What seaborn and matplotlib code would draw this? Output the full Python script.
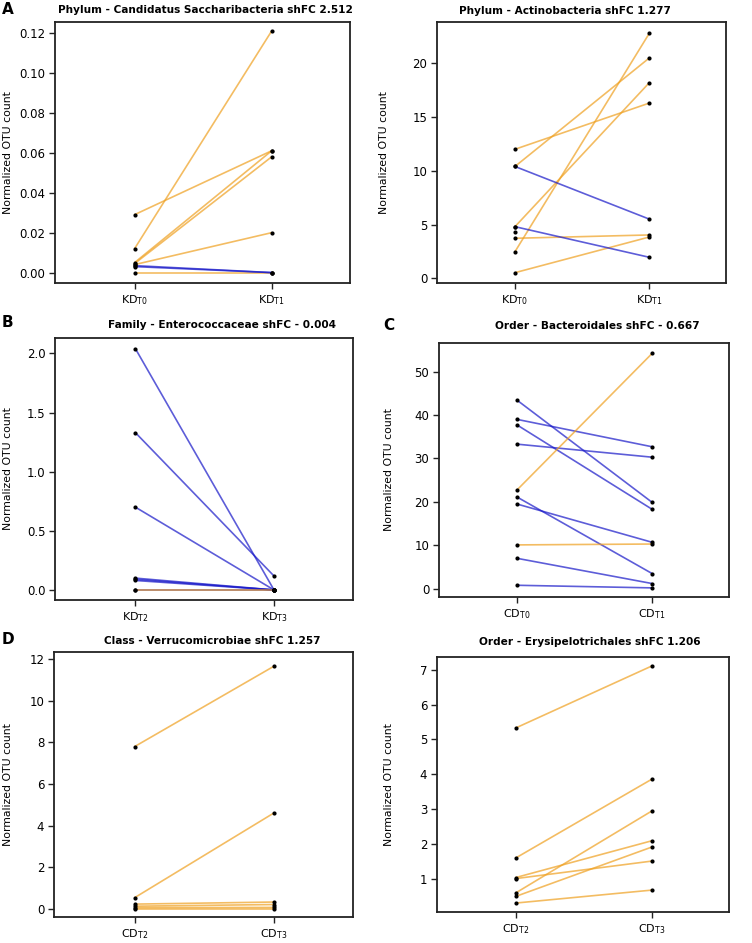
import matplotlib
matplotlib.use("Agg")
import matplotlib.pyplot as plt
import pandas as pd
import seaborn as sns
import numpy as np

ORANGE = "#EFA020"
BLUE = "#1818C8"

# panel A - Candidatus Saccharibacteria, KD T0 -> T1
a_t0 = [0.012, 0.029, 0.005, 0.0045, 0.004, 0.0035, 0.003, 0.0]
a_t1 = [0.121, 0.061, 0.061, 0.058, 0.020, 0.0, 0.0, 0.0]
a_dir = ["up", "up", "up", "up", "up", "down", "down", "up"]

# panel A right - Actinobacteria, KD T0 -> T1
b_t0 = [12.0, 10.4, 10.4, 4.8, 4.8, 2.47, 3.72, 0.52, 4.33]
b_t1 = [16.3, 20.5, 5.5, 18.2, 1.95, 22.8, 4.03, 3.84, np.nan]
b_dir = ["up", "up", "down", "up", "down", "up", "up", "up", "up"]

# panel B - Enterococcaceae, KD T2 -> T3
c_t0 = [2.04, 1.33, 0.70, 0.10, 0.09, 0.08, 0.0, 0.0]
c_t1 = [0.0, 0.118, 0.0, 0.0, 0.0, 0.0, 0.0, 0.0]
c_dir = ["down", "down", "down", "down", "down", "down", "up", "down"]

# panel C - Bacteroidales, CD T0 -> T1
d_t0 = [43.4, 39.0, 37.7, 33.3, 22.8, 21.1, 19.5, 10.1, 7.0, 0.8]
d_t1 = [19.9, 32.7, 18.3, 30.3, 54.2, 3.5, 10.7, 10.3, 1.2, 0.2]
d_dir = ["down", "down", "down", "down", "up", "down", "down", "up", "down", "down"]

# panel D - Verrucomicrobiae, CD T2 -> T3
e_t0 = [7.8, 0.53, 0.22, 0.12, 0.05, 0.0]
e_t1 = [11.66, 4.6, 0.32, 0.2, 0.06, 0.0]
e_dir = ["up", "up", "up", "up", "up", "up"]

# panel D right - Erysipelotrichales, CD T2 -> T3
f_t0 = [5.33, 1.61, 1.05, 1.02, 0.61, 0.51, 0.32]
f_t1 = [7.1, 3.86, 2.10, 1.52, 2.95, 1.92, 0.69]
f_dir = ["up", "up", "up", "up", "up", "up", "up"]

panels = [
    dict(t0=a_t0, t1=a_t1, ch=a_dir, ticks=["KD$_{\\mathrm{T0}}$", "KD$_{\\mathrm{T1}}$"],
         title="Phylum - Candidatus Saccharibacteria shFC 2.512",
         box=(55, 22, 350, 283), ylim=(-0.0052, 0.1254), yt=np.arange(0, 0.121, 0.02), fmt="{:.2f}",
         tx=205, ty=10, letter="A", lx=2, ly=9, labx=8),
    dict(t0=b_t0, t1=b_t1, ch=b_dir, ticks=["KD$_{\\mathrm{T0}}$", "KD$_{\\mathrm{T1}}$"],
         title="Phylum - Actinobacteria shFC 1.277",
         box=(437, 22, 726, 283), ylim=(-0.44, 23.84), yt=np.arange(0, 21, 5), fmt="{:.0f}",
         tx=565, ty=11, letter=None, labx=384),
    dict(t0=c_t0, t1=c_t1, ch=c_dir, ticks=["KD$_{\\mathrm{T2}}$", "KD$_{\\mathrm{T3}}$"],
         title="Family - Enterococcaceae shFC - 0.004",
         box=(55, 338, 353, 600), ylim=(-0.085, 2.13), yt=np.arange(0, 2.01, 0.5), fmt="{:.1f}",
         tx=222, ty=325, letter="B", lx=2, ly=323, labx=8),
    dict(t0=d_t0, t1=d_t1, ch=d_dir, ticks=["CD$_{\\mathrm{T0}}$", "CD$_{\\mathrm{T1}}$"],
         title="Order - Bacteroidales shFC - 0.667",
         box=(439, 343, 729, 597), ylim=(-1.9, 56.6), yt=np.arange(0, 51, 10), fmt="{:.0f}",
         tx=597, ty=326, letter="C", lx=383, ly=325, labx=389),
    dict(t0=e_t0, t1=e_t1, ch=e_dir, ticks=["CD$_{\\mathrm{T2}}$", "CD$_{\\mathrm{T3}}$"],
         title="Class - Verrucomicrobiae shFC 1.257",
         box=(54, 652, 353, 917), ylim=(-0.40, 12.35), yt=np.arange(0, 13, 2), fmt="{:.0f}",
         tx=212, ty=641, letter="D", lx=2, ly=640, labx=8),
    dict(t0=f_t0, t1=f_t1, ch=f_dir, ticks=["CD$_{\\mathrm{T2}}$", "CD$_{\\mathrm{T3}}$"],
         title="Order - Erysipelotrichales shFC 1.206",
         box=(437, 657, 729, 912), ylim=(0.064, 7.36), yt=np.arange(1, 8, 1), fmt="{:.0f}",
         tx=590, ty=642, letter=None, labx=389),
]

sns.set_theme(style="ticks")
plt.rcParams["font.family"] = ["DejaVu Sans"]
plt.rcParams["mathtext.fontset"] = "dejavusans"
for k in ["text.color", "axes.labelcolor", "xtick.color", "ytick.color", "axes.edgecolor"]:
    plt.rcParams[k] = "black"

W, H = 752, 943
fig = plt.figure(figsize=(W / 100, H / 100), dpi=100)

for p in panels:
    x0, y0, x1, y1 = p["box"]
    ax = fig.add_axes([x0 / W, 1 - y1 / H, (x1 - x0) / W, (y1 - y0) / H])
    n = len(p["t0"])
    df = pd.DataFrame({
        "subject": list(range(n)) * 2,
        "time": [0] * n + [1] * n,
        "count": list(p["t0"]) + list(p["t1"]),
        "change": list(p["ch"]) * 2,
    })
    sns.lineplot(data=df, x="time", y="count", units="subject", estimator=None,
                 hue="change", palette={"up": ORANGE, "down": BLUE}, alpha=0.7,
                 linewidth=1.2, legend=False, ax=ax)
    sns.scatterplot(data=df, x="time", y="count", color="black", s=9,
                    linewidth=0, zorder=3, legend=False, ax=ax)
    ax.set_xlim(-0.58, 1.57)
    ax.set_ylim(*p["ylim"])
    ax.set_xticks([0, 1])
    ax.set_xticklabels(p["ticks"], fontsize=8)
    ax.set_yticks(p["yt"])
    ax.set_yticklabels([p["fmt"].format(v) for v in p["yt"]], fontsize=8.5)
    ax.set_xlabel("")
    ax.set_ylabel("")
    ax.tick_params(length=4, width=1, color="#222222", pad=3)
    for s in ax.spines.values():
        s.set_linewidth(1.3)
        s.set_color("#222222")
    fig.text(p["tx"] / W, 1 - p["ty"] / H, p["title"], fontsize=7.6, fontweight="bold",
             ha="center", va="center")
    fig.text(p["labx"] / W, 1 - ((y0 + y1) / 2) / H, "Normalized OTU count", fontsize=7.8,
             rotation=90, ha="center", va="center")
    if p["letter"]:
        fig.text(p["lx"] / W, 1 - p["ly"] / H, p["letter"], fontsize=11, fontweight="bold",
                 ha="left", va="center")

fig.savefig("out.png", dpi=100)
